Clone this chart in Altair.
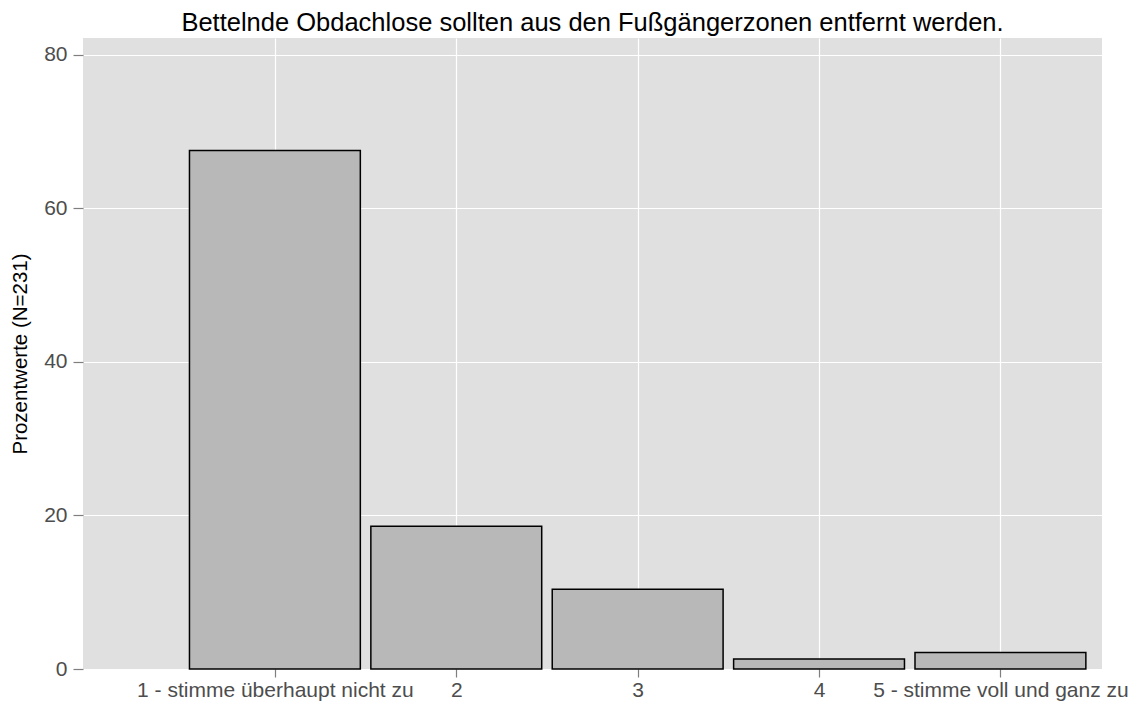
import altair as alt
import pandas as pd

categories = ["1 - stimme überhaupt nicht zu", "2", "3", "4", "5 - stimme voll und ganz zu"]
positions = [1, 2, 3, 4, 5]
percent = [67.53, 18.61, 10.39, 1.30, 2.16]
y_ticks = [0, 20, 40, 60, 80]

bar_half = 0.471
df = pd.DataFrame({"pos": positions, "cat": categories, "pct": percent})
df["x0"] = df["pos"] - bar_half
df["x1"] = df["pos"] + bar_half
df["base"] = 0

label_expr = "[''," + ",".join("'" + c + "'" for c in categories) + "][datum.value]"

font = "Liberation Sans"

x_enc = alt.X(
    "x0:Q",
    scale=alt.Scale(domain=[-0.058, 5.56], nice=False, zero=False),
    axis=alt.Axis(
        values=positions,
        labelExpr=label_expr,
        title=None,
        grid=True,
        gridColor="white",
        gridWidth=1.2,
        domain=False,
        tickColor="#7f7f7f",
        tickSize=8,
        tickWidth=1.2,
        labelFontSize=21,
        labelColor="#4d4d4d",
        labelPadding=2,
        labelLimit=0,
        labelFont=font,
        labelOverlap=False,
    ),
)

y_enc = alt.Y(
    "pct:Q",
    scale=alt.Scale(domain=[0, 82.2], nice=False),
    axis=alt.Axis(
        values=y_ticks,
        title="Prozentwerte (N=231)",
        titleFontSize=20.5,
        titleFontWeight="normal",
        titleColor="black",
        titleFont=font,
        titlePadding=13,
        grid=True,
        gridColor="white",
        gridWidth=1.2,
        domain=False,
        tickColor="#7f7f7f",
        tickSize=10,
        tickWidth=1.2,
        labelFontSize=21,
        labelColor="#4d4d4d",
        labelPadding=6,
        labelFont=font,
    ),
)

bars = alt.Chart(df).mark_rect(
    fill="#b8b8b8", stroke="black", strokeWidth=1.5
).encode(
    x=x_enc,
    x2="x1:Q",
    y=y_enc,
    y2="base:Q",
)

chart = bars.properties(
    width=1019,
    height=631,
    title=alt.Title(
        "Bettelnde Obdachlose sollten aus den Fußgängerzonen entfernt werden.",
        fontSize=25.5,
        fontWeight="normal",
        font=font,
        color="black",
        anchor="middle",
        offset=2,
    ),
    autosize=alt.AutoSizeParams(type="none"),
    padding={"left": 75, "top": 30, "right": 28, "bottom": 36},
).configure(
    font=font,
    view=alt.ViewConfig(fill="#e0e0e0", strokeWidth=0, stroke="#e0e0e0"),
)

chart.save("out.html", embed_options={"renderer": "svg", "actions": False})
